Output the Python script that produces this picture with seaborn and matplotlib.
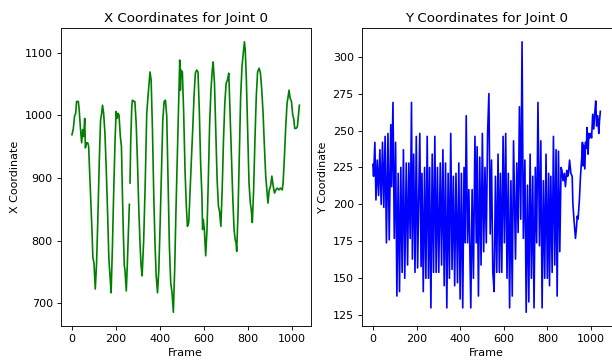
import numpy as np
import pandas as pd
import matplotlib
matplotlib.use("Agg")
import matplotlib.pyplot as plt
import seaborn as sns

# X coordinate of joint 0 (two pieces, a few frames are missing in between)
x_frames_a = [0, 6, 12, 17, 21, 29, 33, 38, 44, 49, 53, 58, 61, 66, 72, 76, 80, 86,
              92, 95, 100, 106, 112, 118, 124, 130, 135, 139, 144, 150, 156, 162,
              168, 174, 178, 184, 190, 196, 201, 205, 210, 214, 220, 225, 229, 234,
              238, 241, 247, 252, 256, 261]
x_values_a = [969, 978, 999, 1003, 1022, 1022, 1008, 982, 956, 977, 966, 995, 948,
              956, 956, 950, 913, 860, 807, 773, 765, 723, 765, 839, 924, 992, 1003,
              1016, 1003, 971, 913, 844, 770, 739, 717, 791, 881, 961, 1006, 995,
              1003, 1000, 966, 950, 881, 807, 760, 754, 720, 765, 807, 858]

x_frames_b = [264, 267, 272, 275, 281, 286, 292, 298, 304, 310, 314, 319, 326, 333,
              340, 348, 355, 360, 366, 372, 378, 383, 389, 395, 401, 407, 413, 419,
              425, 431, 437, 443, 449, 455, 461, 467, 473, 479, 485, 490, 493, 496,
              502, 508, 514, 520, 525, 531, 537, 543, 549, 555, 561, 567, 573, 579,
              585, 591, 594, 597, 602, 608, 614, 620, 626, 632, 638, 642, 648, 654,
              660, 666, 671, 677, 683, 689, 695, 701, 707, 713, 719, 725, 731, 737,
              742, 746, 749, 755, 761, 767, 773, 779, 784, 788, 793, 799, 805, 811,
              815, 820, 826, 832, 838, 844, 851, 857, 863, 869, 875, 881, 887, 891,
              897, 903, 909, 915, 921, 927, 933, 941, 948, 956, 960, 966, 972, 978,
              983, 987, 992, 998, 1004, 1008, 1013, 1019, 1025, 1029, 1034]
x_values_b = [892, 956, 1014, 1024, 1022, 1022, 987, 924, 850, 791, 762, 744, 800,
              890, 1003, 1040, 1069, 1056, 977, 871, 791, 744, 717, 754, 829, 913,
              992, 1022, 1024, 998, 897, 791, 733, 717, 686, 754, 850, 934, 1022,
              1088, 1040, 1072, 1069, 1003, 913, 855, 823, 829, 881, 929, 977, 1030,
              1067, 1072, 1069, 1008, 924, 871, 818, 834, 818, 776, 818, 897, 987,
              1040, 1072, 1085, 1051, 977, 897, 855, 847, 823, 881, 961, 1019, 1051,
              1056, 1067, 1003, 934, 871, 818, 802, 797, 783, 844, 934, 1030, 1077,
              1098, 1117, 1104, 1056, 977, 892, 860, 850, 829, 881, 961, 1030, 1069,
              1075, 1067, 1040, 1003, 950, 903, 876, 860, 881, 887, 903, 887, 876,
              881, 884, 881, 884, 881, 892, 934, 982, 1019, 1030, 1040, 1027, 1022,
              1000, 995, 979, 979, 982, 998, 1016]

# Y coordinate of joint 0
y_frames = [0, 3, 9, 14, 20, 26, 32, 38, 44, 50, 56, 62, 69, 75, 82, 86, 92, 98, 104,
            110, 116, 122, 128, 134, 140, 146, 153, 159, 165, 171, 177, 181, 187, 193,
            199, 205, 215, 221, 225, 231, 237, 243, 249, 255, 260, 266, 272, 278, 284,
            290, 296, 302, 309, 315, 321, 327, 333, 339, 345, 351, 357, 363, 369, 375,
            381, 388, 394, 400, 406, 412, 418, 423, 428, 434, 440, 446, 449, 455, 461,
            468, 474, 478, 484, 490, 496, 502, 508, 514, 520, 526, 532, 538, 544, 550,
            556, 562, 568, 574, 580, 585, 591, 597, 603, 609, 615, 621, 627, 633, 639,
            645, 654, 660, 666, 672, 678, 684, 690, 697, 703, 709, 715, 721, 727, 733,
            739, 745, 751, 757, 764, 770, 776, 782, 788, 794, 800, 806, 810, 816, 822,
            828, 834, 840, 845, 851, 857, 863, 867, 872, 878, 883, 889, 893, 897, 902,
            908, 914, 917, 922, 926, 929, 934, 937, 941, 947, 952, 958, 961, 964, 967,
            972, 975, 979, 982, 987, 990, 994, 999, 1003, 1008, 1013, 1017, 1022, 1026,
            1031, 1036, 1039, 1043]
y_values = [227, 219, 242, 203, 230, 206, 237, 200, 242, 198, 246, 174, 248, 176, 254,
            212, 269, 177, 242, 138, 221, 141, 225, 154, 237, 150, 228, 159, 228, 177,
            269, 163, 234, 154, 246, 157, 248, 158, 221, 141, 225, 150, 246, 150, 225,
            130, 234, 154, 246, 154, 225, 154, 228, 159, 237, 145, 228, 130, 221, 150,
            248, 156, 219, 145, 221, 147, 228, 136, 221, 130, 225, 174, 260, 174, 210,
            154, 130, 210, 150, 246, 174, 239, 138, 232, 159, 248, 168, 225, 174, 248,
            275, 180, 230, 154, 141, 219, 154, 234, 154, 221, 154, 246, 174, 248, 150,
            221, 130, 216, 138, 243, 163, 228, 181, 266, 190, 310, 177, 230, 127, 213,
            134, 234, 150, 219, 130, 225, 174, 269, 172, 243, 130, 216, 150, 234, 150,
            221, 145, 219, 154, 246, 159, 237, 138, 236, 168, 225, 223, 216, 221, 212,
            223, 219, 221, 230, 221, 219, 201, 190, 183, 177, 185, 192, 190, 203, 219,
            232, 242, 226, 240, 224, 242, 238, 252, 234, 248, 245, 248, 245, 261, 251,
            261, 270, 253, 260, 248, 256, 263]

x_df = pd.concat([
    pd.DataFrame({"Frame": x_frames_a, "X": x_values_a, "part": "a"}),
    pd.DataFrame({"Frame": x_frames_b, "X": x_values_b, "part": "b"}),
])
y_df = pd.DataFrame({"Frame": y_frames, "Y": y_values})

fig, axes = plt.subplots(1, 2, figsize=(7.65, 4.5375), dpi=80)
fig.subplots_adjust(left=0.099, right=0.9995, bottom=0.1025, top=0.922, wspace=0.203)

sns.lineplot(data=x_df, x="Frame", y="X", units="part", estimator=None,
             color="green", linewidth=1.5, ax=axes[0])
axes[0].set_title("X Coordinates for Joint 0")
axes[0].set_xlabel("Frame")
axes[0].set_ylabel("X Coordinate")

sns.lineplot(data=y_df, x="Frame", y="Y", estimator=None,
             color="blue", linewidth=1.5, ax=axes[1])
axes[1].set_title("Y Coordinates for Joint 0")
axes[1].set_xlabel("Frame")
axes[1].set_ylabel("Y Coordinate")

fig.savefig("out.png", dpi=80)
